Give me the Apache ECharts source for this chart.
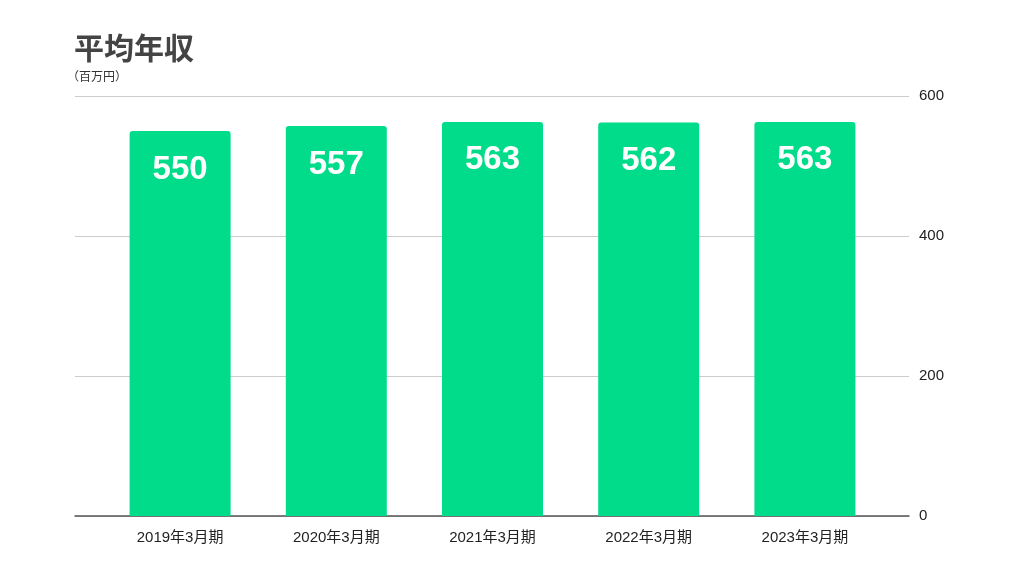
<!DOCTYPE html>
<html><head><meta charset="utf-8">
<script src="https://cdn.jsdelivr.net/npm/echarts@6/dist/echarts.min.js"></script>
<style>html,body{margin:0;padding:0;background:#fff}#c{width:1024px;height:576px}</style>
</head><body><div id="c"></div>
<script>
const categories = ['2019年3月期','2020年3月期','2021年3月期','2022年3月期','2023年3月期'];
const values = [550, 557, 563, 562, 563];
const yTicks = [0, 200, 400, 600];
const font = "'Liberation Sans', 'Noto Sans CJK JP', sans-serif";
const chart = echarts.init(document.getElementById('c'));
chart.setOption({
  animation: false,
  title: [
    {text: '平均年収', left: 69, top: 28, textStyle: {fontFamily: 'Noto Sans CJK JP', fontSize: 30, fontWeight: 'bold', color: '#444'}},
    {text: '（百万円）', left: 62, top: 65, textStyle: {fontFamily: 'Noto Sans CJK JP', fontSize: 12, fontWeight: 'normal', color: '#333'}}
  ],
  grid: [
    {left: 75, right: 115, top: 96, bottom: 60},
    {left: 102, right: 141, top: 96, bottom: 60}
  ],
  xAxis: [
    {type: 'category', gridIndex: 0, data: categories,
      axisLine: {lineStyle: {color: '#555', width: 1.5}}, axisTick: {show: false}, axisLabel: {show: false}},
    {type: 'category', gridIndex: 1, data: categories,
      axisLine: {show: false}, axisTick: {show: false},
      axisLabel: {color: '#222', fontSize: 15, fontFamily: font, margin: 14}}
  ],
  yAxis: [
    {type: 'value', gridIndex: 0, position: 'right', min: yTicks[0], max: yTicks[yTicks.length-1], interval: 200,
      axisLine: {show: false}, axisTick: {show: false},
      axisLabel: {color: '#222', fontSize: 15, fontFamily: font, margin: 10},
      splitLine: {lineStyle: {color: '#ccc', width: 1}}},
    {type: 'value', gridIndex: 1, min: yTicks[0], max: yTicks[yTicks.length-1], interval: 200,
      axisLine: {show: false}, axisTick: {show: false}, axisLabel: {show: false}, splitLine: {show: false}}
  ],
  series: [{type: 'bar', xAxisIndex: 1, yAxisIndex: 1, data: values, barWidth: 101,
    itemStyle: {color: '#00DC8A', borderRadius: [3,3,0,0]},
    label: {show: true, position: 'insideTop', distance: 22, color: '#fff', fontSize: 33, fontWeight: 'bold', fontFamily: font}}]
});
</script></body></html>
